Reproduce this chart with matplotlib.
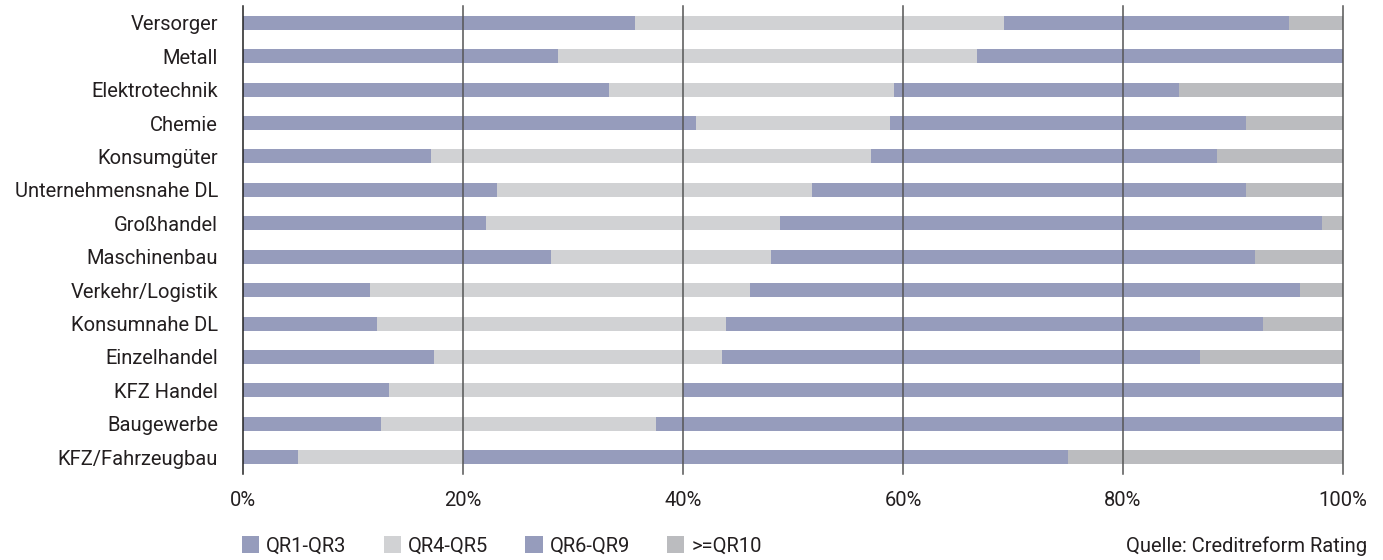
import matplotlib
matplotlib.use("Agg")
import matplotlib.pyplot as plt
import numpy as np

plt.rcParams['font.family'] = ['Roboto', 'DejaVu Sans']

branchen = ["Versorger", "Metall", "Elektrotechnik", "Chemie", "Konsumgüter",
            "Unternehmensnahe DL", "Großhandel", "Maschinenbau", "Verkehr/Logistik",
            "Konsumnahe DL", "Einzelhandel", "KFZ Handel", "Baugewerbe",
            "KFZ/Fahrzeugbau"]

qr1_qr3 = [35.6, 28.6, 33.3, 41.2, 17.1, 23.1, 22.1, 28.0, 11.5, 12.2, 17.4, 13.3, 12.5, 5.0]
qr4_qr5 = [33.6, 38.1, 25.9, 17.6, 40.0, 28.6, 26.7, 20.0, 34.6, 31.7, 26.1, 26.7, 25.0, 15.0]
qr6_qr9 = [25.9, 33.3, 25.9, 32.4, 31.4, 39.5, 49.3, 44.0, 50.0, 48.8, 43.5, 60.0, 62.5, 55.0]
qr10_plus = [4.9, 0.0, 14.9, 8.8, 11.5, 8.8, 1.9, 8.0, 3.9, 7.3, 13.0, 0.0, 0.0, 25.0]

serien = ["QR1-QR3", "QR4-QR5", "QR6-QR9", ">=QR10"]
farben = ["#969cbc", "#d1d2d4", "#969cbc", "#bbbcbf"]
xticks = [0, 20, 40, 60, 80, 100]

text_color = "#231f20"
fs = 14.5

fig = plt.figure(figsize=(13.83, 5.6), dpi=100)
ax = fig.add_axes([243 / 1383, 1 - 474 / 560, 1100 / 1383, 468 / 560])

y = np.arange(len(branchen))
left = np.zeros(len(branchen))
handles = []
for werte, name, farbe in zip([qr1_qr3, qr4_qr5, qr6_qr9, qr10_plus], serien, farben):
    werte = np.array(werte)
    h = ax.barh(y, werte, left=left, height=0.42, color=farbe, label=name,
                edgecolor="none", zorder=2)
    handles.append(h)
    left += werte

ax.set_xlim(0, 100)
ax.set_ylim(len(branchen) - 0.5, -0.5)
ax.set_yticks(y)
ax.set_yticklabels(branchen, fontsize=fs, color=text_color)
ax.set_xticks(xticks)
ax.set_xticklabels([f"{t}%" for t in xticks], fontsize=fs, color=text_color)
ax.tick_params(axis="both", length=0)
ax.tick_params(axis="y", pad=18)
ax.tick_params(axis="x", pad=12)

for t in xticks[1:]:
    ax.axvline(t, color="#555555", lw=1.1, zorder=3, clip_on=False)

for side in ["top", "right", "bottom"]:
    ax.spines[side].set_visible(False)
ax.spines["left"].set_color("#222222")
ax.spines["left"].set_linewidth(1.1)
ax.spines["left"].set_zorder(3)

fig.legend(handles=handles, labels=serien, loc="center left",
           bbox_to_anchor=(242 / 1383, 1 - 546 / 560), ncol=4, frameon=False,
           fontsize=fs, handlelength=0.85, handleheight=0.85, handletextpad=0.35,
           columnspacing=1.85, borderpad=0, borderaxespad=0, labelcolor=text_color)

fig.text(1367 / 1383, 1 - 546 / 560, "Quelle: Creditreform Rating", ha="right",
         va="center", fontsize=fs, color=text_color)

fig.savefig("out.png", dpi=100)
